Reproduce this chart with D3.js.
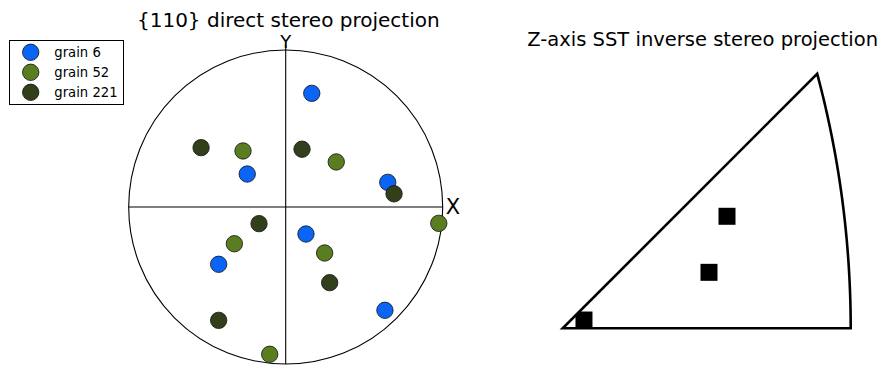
<!DOCTYPE html>
<html>
<head>
<meta charset="utf-8">
<script src="https://cdn.jsdelivr.net/npm/d3@7"></script>
<style>
  html, body { margin: 0; padding: 0; background: #fff; }
  svg { display: block; font-family: "DejaVu Sans", sans-serif; }
</style>
</head>
<body>
<svg id="chart" width="883" height="365"></svg>
<script>
// ---- data ----
const grainNames = ["grain 6", "grain 52", "grain 221"];
const grainColors = ["#0a64f5", "#5a7e1f", "#323f1b"];
// {110} pole projections, unit-circle coordinates [x, y]
const grain6Poles = [[0.166, 0.724], [-0.245, 0.210], [0.650, 0.157], [0.129, -0.172], [-0.427, -0.365], [0.632, -0.658]];
const grain52Poles = [[-0.272, 0.357], [0.322, 0.287], [0.975, -0.104], [-0.327, -0.234], [0.248, -0.293], [-0.102, -0.938]];
const grain221Poles = [[-0.539, 0.378], [0.104, 0.368], [0.690, 0.084], [-0.170, -0.106], [0.280, -0.482], [-0.427, -0.722]];
// Z-axis positions inside the standard stereographic triangle [X, Y]
const sstX = [0.2363, 0.2104, 0.0306];
const sstY = [0.1611, 0.0805, 0.0119];
const titles = ["{110} direct stereo projection", "Z-axis SST inverse stereo projection"];
const axisLabels = ["X", "Y"];

const svg = d3.select("#chart");

// ---- left: direct stereo projection ----
const cx = 285.7, cy = 207, R = 157;
const x = d3.scaleLinear().domain([-1, 1]).range([cx - R, cx + R]);
const y = d3.scaleLinear().domain([-1, 1]).range([cy + R, cy - R]);

svg.append("text").attr("x", 288.3).attr("y", 26.5).attr("text-anchor", "middle")
  .attr("font-size", 20).text(titles[0]);

svg.append("circle").attr("cx", x(0)).attr("cy", y(0)).attr("r", x(1) - x(0))
  .attr("fill", "none").attr("stroke", "#000").attr("stroke-width", 1.1);
svg.append("line").attr("x1", x(-1)).attr("x2", x(1)).attr("y1", y(0)).attr("y2", y(0))
  .attr("stroke", "#000").attr("stroke-width", 1.1);
svg.append("line").attr("x1", x(0)).attr("x2", x(0)).attr("y1", y(-1)).attr("y2", y(1.03))
  .attr("stroke", "#000").attr("stroke-width", 1.1);
svg.append("text").attr("x", x(1) + 3).attr("y", y(0)).attr("dominant-baseline", "central")
  .attr("font-size", 21).text(axisLabels[0]);
svg.append("text").attr("x", x(0)).attr("y", 48).attr("text-anchor", "middle")
  .attr("font-size", 18).text(axisLabels[1]);

const series = [grain6Poles, grain52Poles, grain221Poles];
series.forEach((pts, i) => {
  svg.append("g").selectAll("circle").data(pts).join("circle")
    .attr("cx", d => x(d[0])).attr("cy", d => y(d[1])).attr("r", 8.2)
    .attr("fill", grainColors[i]).attr("stroke", "#111").attr("stroke-width", 0.8);
});

// legend
const lg = svg.append("g");
lg.append("rect").attr("x", 9.5).attr("y", 40.5).attr("width", 114).attr("height", 64)
  .attr("fill", "#fff").attr("stroke", "#000").attr("stroke-width", 1);
grainNames.forEach((n, i) => {
  const ly = 52.3 + i * 20;
  lg.append("circle").attr("cx", 30.7).attr("cy", ly).attr("r", 8.2)
    .attr("fill", grainColors[i]).attr("stroke", "#111").attr("stroke-width", 0.8);
  lg.append("text").attr("x", 54.3).attr("y", ly).attr("dominant-baseline", "central")
    .attr("font-size", 13.2).text(n);
});

// ---- right: SST inverse stereo projection ----
const k = 695.3;
const sx = d3.scaleLinear().domain([0, 0.4142]).range([562.7, 562.7 + 0.4142 * k]);
const sy = d3.scaleLinear().domain([0, 0.366]).range([328.3, 328.3 - 0.366 * k]);

svg.append("text").attr("x", 527.3).attr("y", 46).attr("text-anchor", "start")
  .attr("font-size", 19.5).text(titles[1]);

// triangle boundary: [001] -> [101] -> great circle -> [111] -> [001]
const boundary = [[0, 0]];
for (let j = 0; j <= 60; j++) {
  const t = j / 60;
  const n = Math.sqrt(2 + t * t);
  boundary.push([1 / (n + 1), t / (n + 1)]);
}
const lineGen = d3.line().x(d => sx(d[0])).y(d => sy(d[1]));
const pathD = lineGen(boundary) + "Z";

svg.append("clipPath").attr("id", "sstclip").append("path").attr("d", pathD);

svg.append("g").attr("clip-path", "url(#sstclip)").selectAll("rect")
  .data(sstX.map((v, i) => [v, sstY[i]])).join("rect")
  .attr("x", d => sx(d[0]) - 8.5).attr("y", d => sy(d[1]) - 8.5)
  .attr("width", 17).attr("height", 17).attr("fill", "#000");

svg.append("path").attr("d", pathD).attr("fill", "none").attr("stroke", "#000")
  .attr("stroke-width", 2.6).attr("stroke-linejoin", "miter");
</script>
</body>
</html>
